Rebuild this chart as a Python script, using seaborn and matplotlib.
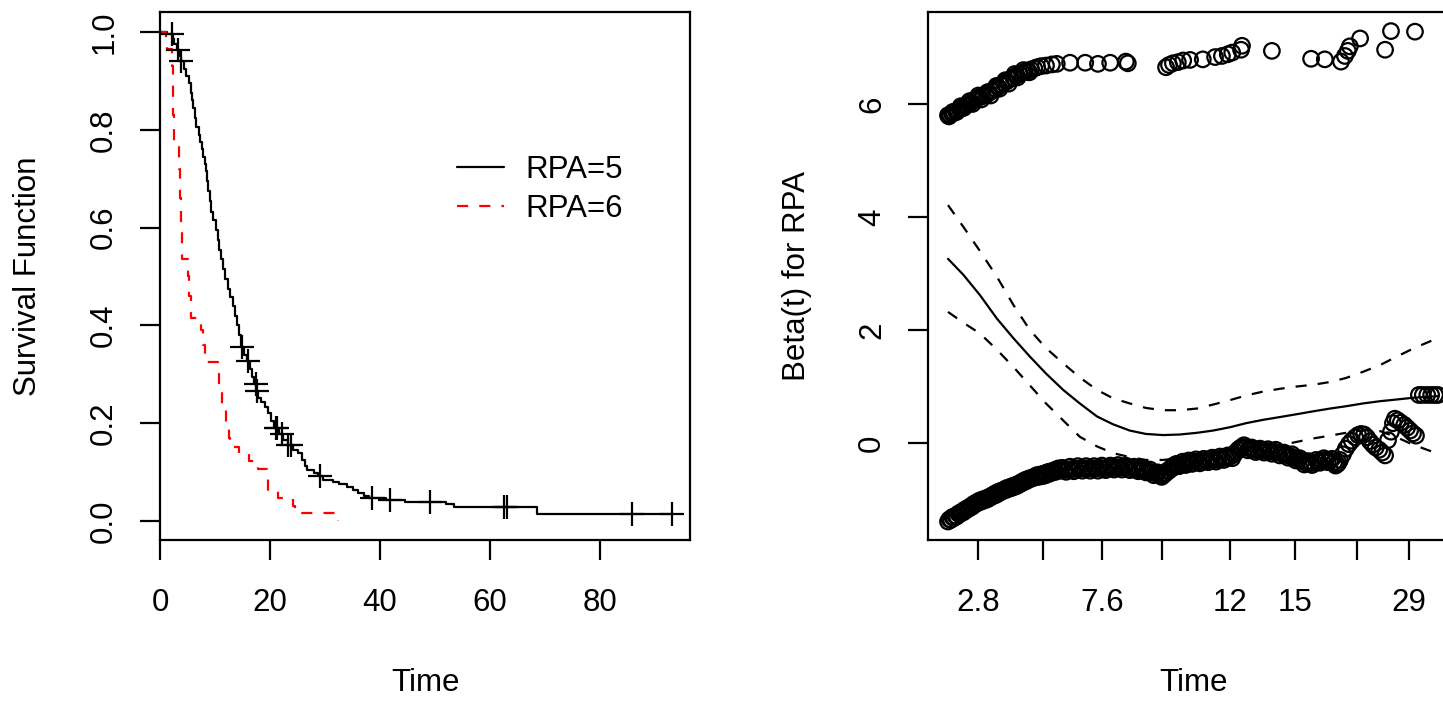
import numpy as np
import pandas as pd
import matplotlib
matplotlib.use("Agg")
import matplotlib.pyplot as plt
import seaborn as sns

# ---------------- Left panel: Kaplan-Meier curves ----------------
rpa5_time = [0, 1.2, 2.3, 2.6, 3.1, 3.6, 3.8, 4.3, 4.8, 5.2, 5.6, 5.8, 6.0, 6.3, 6.6, 7.0,
             7.3, 7.6, 7.9, 8.1, 8.3, 8.5, 8.7, 9.0, 9.3, 9.7, 10.2, 10.5, 10.8, 11.1, 11.4,
             11.8, 12.3, 12.8, 13.2, 13.6, 14.0, 14.4, 14.7, 15.3, 15.8, 16.3, 16.7, 17.1,
             17.5, 17.9, 18.4, 19.0, 19.6, 20.2, 20.7, 21.6, 22.4, 23.2, 24.2, 25.0, 25.8,
             26.3, 26.7, 28.0, 28.8, 29.6, 31.5, 32.5, 34.0, 35.0, 36.0, 37.0, 38.0, 41.0,
             44.5, 52.0, 53.5, 68.5, 93.3]
rpa5_surv = [1.0, 0.997, 0.985, 0.975, 0.963, 0.95, 0.94, 0.925, 0.91, 0.895, 0.875, 0.86,
             0.845, 0.825, 0.805, 0.79, 0.775, 0.76, 0.745, 0.73, 0.715, 0.695, 0.675, 0.655,
             0.632, 0.615, 0.595, 0.575, 0.555, 0.535, 0.515, 0.495, 0.475, 0.458, 0.44, 0.42,
             0.40, 0.38, 0.355, 0.34, 0.328, 0.31, 0.295, 0.28, 0.265, 0.252, 0.244, 0.234,
             0.22, 0.205, 0.19, 0.178, 0.166, 0.156, 0.146, 0.138, 0.125, 0.112, 0.104, 0.098,
             0.091, 0.084, 0.080, 0.075, 0.070, 0.064, 0.057, 0.051, 0.046, 0.043, 0.039,
             0.034, 0.028, 0.014, 0.014]
rpa5_censor = [2.1, 3.3, 3.9, 14.85, 16.05, 17.4, 17.7, 21.0, 21.3, 22.2, 23.3, 23.9, 29.0,
               38.5, 41.8, 49.1, 62.5, 63.0, 85.8, 93.0]

rpa6_time = [0, 1.0, 1.3, 2.2, 2.3, 2.4, 2.6, 3.4, 3.6, 3.8, 4.0, 5.0, 5.3, 5.7, 7.5, 7.8,
             8.2, 10.5, 10.8, 11.2, 12.0, 12.5, 12.7, 14.4, 16.2, 17.8, 19.4, 19.7, 21.4,
             24.2, 24.6, 32.3]
rpa6_surv = [1.0, 0.98, 0.965, 0.93, 0.88, 0.83, 0.765, 0.72, 0.66, 0.60, 0.535, 0.50, 0.46,
             0.415, 0.39, 0.36, 0.325, 0.30, 0.27, 0.235, 0.20, 0.17, 0.152, 0.138, 0.122,
             0.106, 0.085, 0.063, 0.046, 0.030, 0.016, 0.0]

legend_labels = ["RPA=5", "RPA=6"]
left_xticks = [0, 20, 40, 60, 80]
left_yticks = [0.0, 0.2, 0.4, 0.6, 0.8, 1.0]

# ---------------- Right panel: cox.zph Beta(t) ----------------
lower_x = [0.000, 0.006, 0.012, 0.018, 0.024, 0.031, 0.037, 0.043, 0.049, 0.055, 0.061, 0.067,
           0.073, 0.080, 0.086, 0.092, 0.098, 0.104, 0.110, 0.116, 0.122, 0.129, 0.135, 0.141,
           0.147, 0.153, 0.159, 0.165, 0.171, 0.178, 0.184, 0.190, 0.196, 0.202, 0.208, 0.214,
           0.220, 0.229, 0.237, 0.245, 0.253, 0.261, 0.269, 0.278, 0.286, 0.294, 0.302, 0.310,
           0.318, 0.327, 0.335, 0.343, 0.351, 0.359, 0.367, 0.376, 0.384, 0.392, 0.400, 0.408,
           0.416, 0.424, 0.433, 0.439, 0.445, 0.451, 0.457, 0.463, 0.469, 0.476, 0.482, 0.488,
           0.494, 0.502, 0.510, 0.518, 0.527, 0.535, 0.543, 0.551, 0.559, 0.567, 0.576, 0.584,
           0.592, 0.600, 0.608, 0.616, 0.624, 0.633, 0.641, 0.649, 0.657, 0.665, 0.673, 0.682,
           0.690, 0.698, 0.706, 0.714, 0.722, 0.731, 0.739, 0.747, 0.755, 0.763, 0.771, 0.780,
           0.788, 0.794, 0.800, 0.806, 0.812, 0.818, 0.824, 0.831, 0.837, 0.843, 0.849, 0.855,
           0.861, 0.867, 0.873, 0.880, 0.886, 0.892, 0.898, 0.904, 0.908, 0.912, 0.918, 0.924,
           0.931, 0.937, 0.943, 0.949, 0.955, 0.961, 0.969, 0.978, 0.986, 0.994, 1.000]
lower_y = [-1.39, -1.36, -1.33, -1.30, -1.26, -1.23, -1.19, -1.16, -1.13, -1.09, -1.06, -1.04,
           -1.02, -1.00, -0.97, -0.94, -0.92, -0.89, -0.86, -0.84, -0.82, -0.80, -0.78, -0.76,
           -0.73, -0.70, -0.68, -0.65, -0.63, -0.61, -0.60, -0.59, -0.58, -0.56, -0.54, -0.52,
           -0.51, -0.49, -0.48, -0.47, -0.46, -0.46, -0.45, -0.45, -0.45, -0.45, -0.45, -0.44,
           -0.45, -0.44, -0.44, -0.43, -0.43, -0.43, -0.44, -0.45, -0.46, -0.47, -0.48, -0.50,
           -0.52, -0.54, -0.56, -0.57, -0.53, -0.49, -0.45, -0.42, -0.40, -0.38, -0.36, -0.35,
           -0.34, -0.33, -0.33, -0.32, -0.31, -0.30, -0.30, -0.29, -0.27, -0.26, -0.24, -0.20,
           -0.12, -0.07, -0.08, -0.10, -0.12, -0.13, -0.13, -0.14, -0.15, -0.15, -0.17, -0.19,
           -0.21, -0.23, -0.26, -0.29, -0.32, -0.35, -0.36, -0.35, -0.33, -0.31, -0.30, -0.31,
           -0.34, -0.38, -0.30, -0.20, -0.10, -0.02, 0.04, 0.10, 0.14, 0.16, 0.15, 0.10,
           0.03, -0.03, -0.08, -0.12, -0.17, -0.22, 0.05, 0.20, 0.35, 0.43, 0.40, 0.36,
           0.32, 0.27, 0.22, 0.17, 0.13, 0.85, 0.85, 0.85, 0.85, 0.85, 0.85]

# further residuals filling the thick lower band
lower_x2 = [0.003, 0.009, 0.015, 0.021, 0.027, 0.034, 0.040, 0.046, 0.052, 0.058, 0.064, 0.070,
            0.077, 0.083, 0.089, 0.095, 0.101, 0.107, 0.113, 0.119, 0.126, 0.132, 0.138, 0.144,
            0.150, 0.156, 0.162, 0.168, 0.175, 0.181, 0.187, 0.193, 0.199, 0.205, 0.211, 0.217,
            0.225, 0.233, 0.241, 0.249, 0.257, 0.265, 0.274, 0.282, 0.290, 0.298, 0.306, 0.314,
            0.322, 0.331, 0.339, 0.347, 0.355, 0.363, 0.371, 0.380, 0.388, 0.396, 0.404, 0.412,
            0.420, 0.428, 0.436, 0.442, 0.448, 0.454, 0.460, 0.466, 0.472, 0.479, 0.485, 0.491,
            0.498, 0.506, 0.514, 0.522, 0.531, 0.539, 0.547, 0.555, 0.563, 0.571, 0.580, 0.588,
            0.596, 0.604, 0.612, 0.620, 0.628, 0.637, 0.645, 0.653, 0.661, 0.669, 0.677, 0.686,
            0.694, 0.702, 0.710, 0.718, 0.727, 0.735, 0.743, 0.751, 0.759, 0.767, 0.775, 0.784,
            0.791, 0.797]
lower_y2 = [-1.35, -1.31, -1.29, -1.25, -1.22, -1.18, -1.15, -1.12, -1.08, -1.05, -1.02, -1.00,
            -0.98, -0.96, -0.93, -0.90, -0.87, -0.85, -0.83, -0.80, -0.78, -0.76, -0.74, -0.72,
            -0.69, -0.66, -0.64, -0.62, -0.60, -0.57, -0.56, -0.55, -0.53, -0.51, -0.50, -0.48,
            -0.45, -0.44, -0.51, -0.42, -0.50, -0.41, -0.49, -0.41, -0.49, -0.41, -0.49, -0.40,
            -0.48, -0.40, -0.47, -0.39, -0.47, -0.40, -0.48, -0.42, -0.50, -0.44, -0.52, -0.47,
            -0.57, -0.52, -0.60, -0.55, -0.49, -0.45, -0.40, -0.37, -0.41, -0.33, -0.39, -0.31,
            -0.37, -0.29, -0.36, -0.28, -0.34, -0.26, -0.33, -0.24, -0.30, -0.22, -0.27, -0.16,
            -0.09, -0.04, -0.13, -0.08, -0.16, -0.10, -0.17, -0.11, -0.19, -0.12, -0.22, -0.17,
            -0.26, -0.20, -0.31, -0.27, -0.38, -0.32, -0.39, -0.30, -0.35, -0.27, -0.34, -0.28,
            -0.40, -0.35]

upper_x = [0.000, 0.004, 0.008, 0.012, 0.016, 0.020, 0.024, 0.029, 0.035, 0.041, 0.047, 0.053,
           0.059, 0.065, 0.071, 0.078, 0.084, 0.090, 0.096, 0.102, 0.108, 0.114, 0.120, 0.127,
           0.133, 0.139, 0.145, 0.151, 0.157, 0.163, 0.169, 0.176, 0.182, 0.190, 0.200, 0.212,
           0.222, 0.249, 0.280, 0.306, 0.331, 0.363, 0.367, 0.445, 0.451, 0.459, 0.469, 0.480,
           0.494, 0.520, 0.545, 0.559, 0.571, 0.580, 0.598, 0.600, 0.661, 0.741, 0.769, 0.802,
           0.810, 0.816, 0.820, 0.841, 0.892, 0.904, 0.953,
           0.002, 0.010, 0.018, 0.026, 0.032, 0.044, 0.050, 0.062, 0.068, 0.081, 0.087, 0.099,
           0.105, 0.117, 0.124, 0.136, 0.142, 0.154, 0.166]
upper_y = [5.80, 5.81, 5.83, 5.84, 5.87, 5.89, 5.91, 5.93, 5.97, 6.00, 6.03, 6.07, 6.10, 6.12,
           6.14, 6.16, 6.20, 6.23, 6.27, 6.30, 6.34, 6.37, 6.40, 6.44, 6.47, 6.50, 6.53, 6.55,
           6.57, 6.59, 6.61, 6.63, 6.65, 6.67, 6.68, 6.70, 6.71, 6.73, 6.73, 6.71, 6.73, 6.75,
           6.72, 6.65, 6.69, 6.72, 6.74, 6.77, 6.78, 6.79, 6.83, 6.85, 6.88, 6.91, 6.96, 7.03,
           6.94, 6.80, 6.79, 6.75, 6.85, 6.94, 7.02, 7.16, 6.96, 7.29, 7.28,
           5.78, 5.86, 5.86, 5.96, 5.93, 6.05, 6.00, 6.15, 6.08, 6.21, 6.15, 6.32,
           6.27, 6.42, 6.36, 6.53, 6.47, 6.60, 6.56]

curve_x = [0.000, 0.031, 0.065, 0.100, 0.133, 0.167, 0.200, 0.235, 0.269, 0.304, 0.337, 0.371,
           0.404, 0.439, 0.473, 0.508, 0.541, 0.576, 0.608, 0.643, 0.678, 0.712, 0.745, 0.780,
           0.812, 0.847, 0.882, 0.916, 0.949, 0.984, 1.000]
beta_fit = [3.26, 2.98, 2.62, 2.20, 1.86, 1.53, 1.23, 0.94, 0.70, 0.47, 0.33, 0.22, 0.16, 0.14,
            0.15, 0.18, 0.22, 0.28, 0.35, 0.41, 0.46, 0.51, 0.56, 0.61, 0.65, 0.70, 0.74, 0.77,
            0.80, 0.82, 0.83]
beta_upper = [4.21, 3.83, 3.40, 2.94, 2.45, 2.00, 1.68, 1.41, 1.16, 0.94, 0.79, 0.70, 0.62, 0.58,
              0.58, 0.61, 0.68, 0.76, 0.84, 0.91, 0.96, 1.00, 1.03, 1.08, 1.15, 1.26, 1.38, 1.53,
              1.67, 1.80, 1.86]
beta_lower = [2.32, 2.13, 1.94, 1.65, 1.35, 1.02, 0.70, 0.40, 0.11, -0.06, -0.18, -0.25, -0.30,
              -0.30, -0.27, -0.22, -0.17, -0.12, -0.08, -0.06, -0.04, 0.02, 0.08, 0.13, 0.18,
              0.23, 0.21, 0.10, -0.03, -0.14, -0.21]

right_xtick_pos = [0.0618, 0.1945, 0.3137, 0.4373, 0.5755, 0.7082, 0.8341, 0.9408]
right_xtick_labels = ["2.8", "", "7.6", "", "12", "15", "", "29"]
right_yticks = [0, 2, 4, 6]

# ---------------- Style ----------------
sns.set_style("white")
plt.rcParams["font.family"] = ["Liberation Sans", "DejaVu Sans"]
FS = 22.5
plt.rcParams.update({
    "font.size": FS,
    "text.color": "black",
    "axes.labelcolor": "black",
    "xtick.color": "black",
    "ytick.color": "black",
    "axes.edgecolor": "black",
})
LW = 1.6

W, H = 1443, 701
fig = plt.figure(figsize=(W / 100, H / 100), dpi=100)
ax1 = fig.add_axes([160 / W, 161 / H, 530 / W, 528 / H])
ax2 = fig.add_axes([928 / W, 161 / H, 530 / W, 528 / H])

# Left panel
sns.lineplot(x=rpa5_time, y=rpa5_surv, ax=ax1, drawstyle="steps-post", color="black",
             linewidth=LW, estimator=None, sort=False, label=legend_labels[0])
sns.lineplot(x=rpa6_time, y=rpa6_surv, ax=ax1, drawstyle="steps-post", color="red",
             linewidth=LW, estimator=None, sort=False, linestyle=(0, (5, 5)),
             label=legend_labels[1])
t5 = np.array(rpa5_time)
s5 = np.array(rpa5_surv)
cens_y = s5[np.searchsorted(t5, np.array(rpa5_censor), side="right") - 1]
sns.scatterplot(x=rpa5_censor, y=cens_y, ax=ax1, marker="+", color="black", s=300,
                linewidth=LW, legend=False, zorder=3)

ax1.set_xlim(0, 96.36)
ax1.set_ylim(-0.039, 1.041)
ax1.set_xticks(left_xticks)
ax1.set_xticklabels([str(v) for v in left_xticks])
ax1.set_yticks(left_yticks)
ax1.set_yticklabels([f"{v:.1f}" for v in left_yticks])
ax1.set_xlabel("Time")
ax1.set_ylabel("Survival Function")

handles = ax1.get_lines()[:2]
leg = ax1.legend(handles, legend_labels, frameon=False, loc="center left",
                 bbox_to_anchor=(0.56, 0.664), borderpad=0, borderaxespad=0,
                 handlelength=1.5, handletextpad=0.7, labelspacing=0.3, fontsize=FS)

# Right panel
for xs, ys in ((lower_x, lower_y), (lower_x2, lower_y2), (upper_x, upper_y)):
    sns.scatterplot(x=xs, y=ys, ax=ax2, marker="o", s=125, facecolor="none",
                    edgecolor="black", linewidth=LW, legend=False)
for coll in ax2.collections:
    coll.set_facecolor("none")
    coll.set_edgecolor("black")
sns.lineplot(x=curve_x, y=beta_fit, ax=ax2, color="black", linewidth=LW,
             estimator=None, sort=False)
sns.lineplot(x=curve_x, y=beta_upper, ax=ax2, color="black", linewidth=LW,
             estimator=None, sort=False, linestyle=(0, (5, 5)))
sns.lineplot(x=curve_x, y=beta_lower, ax=ax2, color="black", linewidth=LW,
             estimator=None, sort=False, linestyle=(0, (5, 5)))

ax2.set_xlim(-0.0408, 1.0408)
ax2.set_ylim(-1.717, 7.628)
ax2.set_xticks(right_xtick_pos)
ax2.set_xticklabels(right_xtick_labels)
ax2.set_yticks(right_yticks)
ax2.set_yticklabels([str(v) for v in right_yticks])
ax2.set_xlabel("Time")
ax2.set_ylabel("Beta(t) for RPA")

for ax in (ax1, ax2):
    for sp in ax.spines.values():
        sp.set_visible(True)
        sp.set_color("black")
        sp.set_linewidth(LW)
    ax.tick_params(axis="both", which="major", direction="out", length=14.4, width=LW,
                   color="black", labelsize=FS, labelcolor="black", bottom=True, left=True)
    ax.tick_params(axis="x", pad=20)
    ax.tick_params(axis="y", pad=15, labelrotation=90)
    for lab in ax.get_yticklabels():
        lab.set_va("center")
    ax.xaxis.set_label_coords(0.5, -0.271)
    ax.xaxis.label.set_va("center")
    ax.xaxis.label.set_size(FS)
    ax.yaxis.label.set_size(FS)
    ax.yaxis.label.set_va("center")
    ax.grid(False)

ax1.yaxis.set_label_coords(-0.249, 0.5)
ax2.yaxis.set_label_coords(-0.247, 0.5)

fig.savefig("out.png", dpi=100, facecolor="white")
